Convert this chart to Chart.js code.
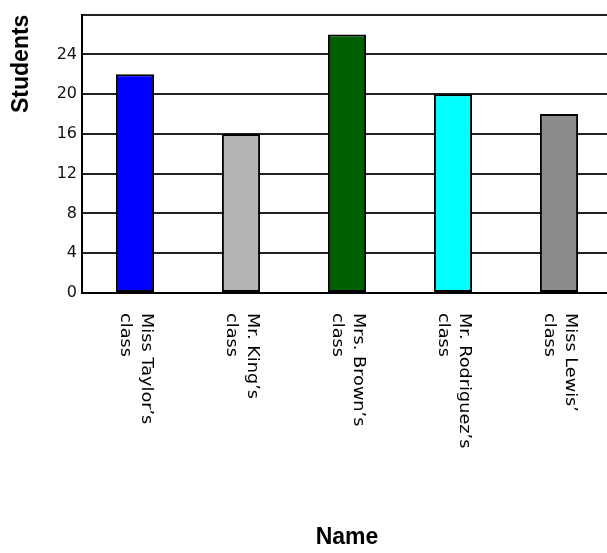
<!DOCTYPE html>
<html>
<head>
<meta charset="utf-8">
<script src="https://cdn.jsdelivr.net/npm/chart.js@4"></script>
<style>
    body { margin: 0; overflow: hidden; background: #fff; }
    #wrap { position: absolute; left: 0; top: 0; width: 612px; height: 553px; }
</style>
</head>
<body>
<div id="wrap"><canvas id="myChart"></canvas></div>
<script>
// データ（各クラスの生徒数）
const classNames = [
    ["Miss Taylor’s", "class"],
    ["Mr. King’s", "class"],
    ["Mrs. Brown’s", "class"],
    ["Mr. Rodriguez’s", "class"],
    ["Miss Lewis’", "class"],
];
const students = [22, 16, 26, 20, 18];
const barColors = ["#0000ff", "#b4b4b4", "#005f00", "#00ffff", "#8c8c8c"];
const yTicks = [0, 4, 8, 12, 16, 20, 24];
const yMax = 28;

// x軸ラベルを縦書き（時計回り90度）で描くプラグイン
const verticalLabels = {
    id: "verticalLabels",
    afterDraw(chart) {
        const ctx = chart.ctx;
        const xScale = chart.scales.x;
        ctx.save();
        ctx.fillStyle = "#000";
        ctx.font = "15px 'DejaVu Sans'";
        ctx.textAlign = "left";
        ctx.textBaseline = "alphabetic";
        classNames.forEach((lines, i) => {
            const x = xScale.getPixelForValue(i);
            ctx.save();
            ctx.translate(x, chart.chartArea.bottom + 20);
            ctx.rotate(Math.PI / 2);
            ctx.scale(1.18, 1);
            lines.forEach((line, j) => {
                ctx.fillText(line, 0, -7 + j * 21);
            });
            ctx.restore();
        });
        ctx.restore();
    },
};

function drawChart() {
    const ctx = document.getElementById("myChart");
    new Chart(ctx, {
        type: "bar",
        data: {
            labels: classNames,
            datasets: [
                {
                    data: students,
                    backgroundColor: barColors,
                    borderColor: "#000",
                    borderWidth: 2,
                    borderSkipped: false,
                    categoryPercentage: 1,
                    barPercentage: 0.36,
                },
            ],
        },
        options: {
            responsive: true,
            maintainAspectRatio: false,
            animation: false,
            layout: { padding: { top: 13, left: 0, right: 0, bottom: 0 } },
            plugins: {
                legend: { display: false },
                tooltip: { enabled: false },
            },
            scales: {
                x: {
                    grid: { display: false },
                    border: { display: true, color: "#000", width: 2 },
                    ticks: { display: false },
                    title: {
                        display: true,
                        text: "Name",
                        color: "#000",
                        font: { family: "'Liberation Sans', Arial", size: 23, weight: "bold" },
                        padding: { top: 0, bottom: 2 },
                    },
                    afterFit(scale) {
                        scale.height = 260;
                    },
                },
                y: {
                    min: 0,
                    max: yMax,
                    afterBuildTicks(scale) {
                        scale.ticks = yTicks.concat([yMax]).map((v) => ({ value: v }));
                    },
                    grid: {
                        color: "#222",
                        lineWidth: 2,
                        drawTicks: false,
                    },
                    border: { display: true, color: "#000", width: 2 },
                    ticks: {
                        color: "#111",
                        padding: 5,
                        font: { family: "'DejaVu Sans'", size: 16 },
                        callback: (v) => (yTicks.includes(v) ? String(v) : ""),
                    },
                    title: {
                        display: true,
                        text: "Students",
                        align: "end",
                        color: "#000",
                        font: { family: "'Liberation Sans', Arial", size: 23, weight: "bold" },
                        padding: { top: 8, bottom: 0 },
                    },
                    afterFit(scale) {
                        scale.width = 82;
                    },
                },
            },
        },
        plugins: [verticalLabels],
    });
}

window.onload = function () {
    drawChart();
};
</script>
</body>
</html>
